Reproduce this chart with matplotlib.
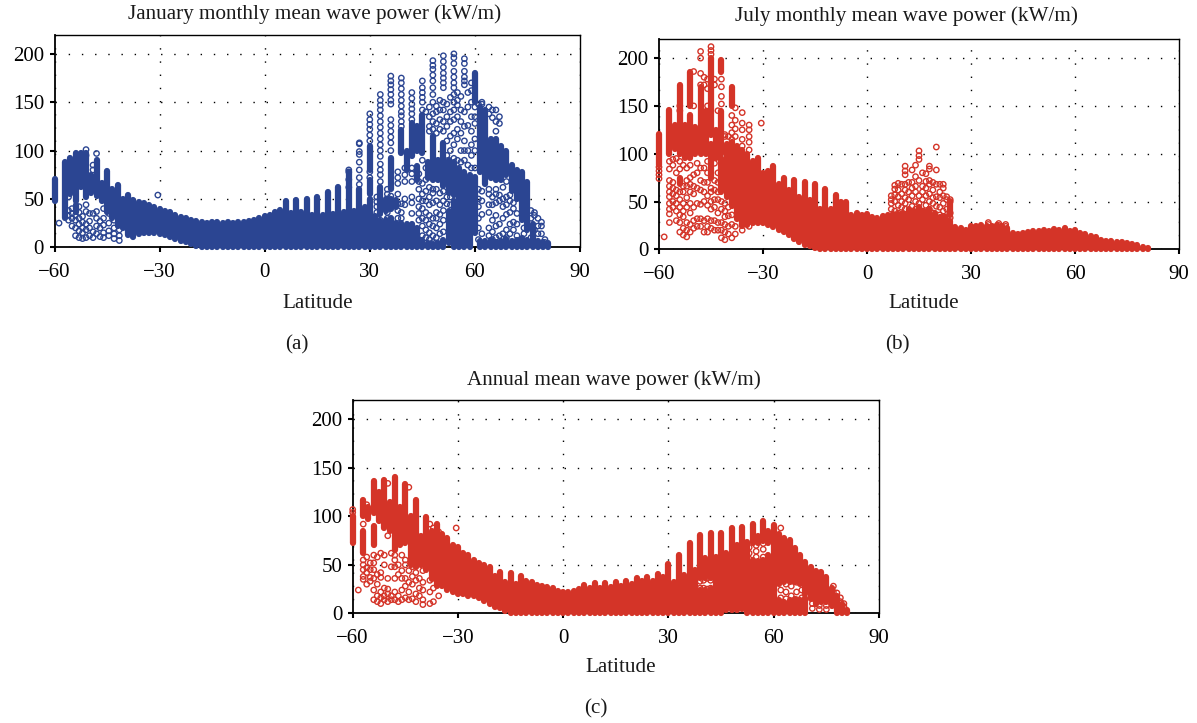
import matplotlib
matplotlib.use('Agg')
import matplotlib.pyplot as plt

plt.rcParams['font.family'] = ['Liberation Serif', 'DejaVu Serif']

x_ticks = [-60, -30, 0, 30, 60, 90]
x_labels = ['\u221260', '\u221230', '0', '30', '60', '90']
y_ticks = [0, 50, 100, 150, 200]
navy = '#2b4592'
red = '#d43428'

# solid stacks of circles: (latitude, low, high)
jan_runs = [
    (-60, 48, 71), (-57, 30, 88), (-55.5, 55, 92), (-54, 48, 98), (-54, 36, 44), (-52.5, 62, 98),
    (-51, 52, 98), (-49.5, 56, 75), (-48, 53, 90), (-46.5, 48, 66), (-45, 36, 79), (-43.5, 30, 60),
    (-42, 22, 64), (-40.5, 20, 50), (-39, 13, 54), (-37.5, 11, 49), (-36, 14, 47), (-34.5, 15, 46),
    (-33, 15, 44), (-31.5, 15, 42), (-30, 14, 40), (-28.5, 13, 38), (-27, 11, 36), (-25.5, 9, 33),
    (-24, 7, 31), (-22.5, 5, 30), (-21, 3, 28), (-19.5, 1, 27), (-18, 0, 26), (-16.5, 0, 25),
    (-15, 0, 26), (-13.5, 0, 26), (-12, 0, 25), (-10.5, 0, 26), (-9, 0, 25), (-7.5, 0, 26),
    (-6, 0, 26), (-4.5, 0, 27), (-3, 0, 28), (-1.5, 0, 30), (0, 0, 32), (1.5, 0, 33),
    (3, 0, 37), (4.5, 0, 39), (6, 0, 48), (7.5, 0, 35), (9, 0, 49), (10.5, 0, 37),
    (12, 0, 50), (13.5, 0, 33), (15, 0, 52), (16.5, 0, 33), (18, 0, 57), (19.5, 0, 34),
    (21, 0, 62), (22.5, 0, 36), (24, 0, 78), (25.5, 0, 38), (27, 0, 60), (28.5, 0, 42),
    (30, 0, 50), (30, 55, 70), (30, 80, 105), (31.5, 0, 32), (33, 0, 27), (33, 34, 62),
    (34.5, 0, 28), (34.5, 38, 50), (36, 0, 30), (36, 40, 50), (36, 60, 92), (37.5, 0, 25), (37.5, 42, 49),
    (39, 0, 25), (39, 97, 121), (40.5, 0, 24), (40.5, 80, 100), (42, 0, 24), (42, 94, 128),
    (43.5, 0, 20), (43.5, 100, 125), (43.5, 70, 84), (45, 97, 137), (45, 0, 8), (46.5, 72, 88),
    (46.5, 0, 4), (48, 70, 115), (48, 0, 3), (49.5, 70, 90), (49.5, 0, 4), (51, 63, 108), (51, 0, 8), (52.5, 56, 90), (52.5, 4, 38),
    (54, 54, 88), (54, 0, 48), (55.5, 55, 82), (55.5, 0, 55), (57, 52, 78), (57, 0, 60),
    (58.5, 45, 75), (58.5, 0, 64), (60, 15, 73), (60, 150, 180), (61.5, 78, 145), (61.5, 0, 7),
    (63, 65, 142), (63, 0, 6), (64.5, 72, 112), (64.5, 0, 8), (66, 70, 112), (66, 0, 5),
    (67.5, 70, 105), (67.5, 0, 6), (69, 75, 100), (69, 0, 9), (70.5, 58, 85), (70.5, 0, 7),
    (72, 50, 80), (72, 0, 8), (73.5, 28, 78), (73.5, 0, 10), (75, 18, 68), (75, 0, 8),
    (76.5, 0, 24), (78, 0, 7), (79.5, 0, 5), (81, 0, 4),
]
jan_open_lat = [-58.7, -56, -55, -54, -53, -52, -51, -50, -49, -48, -47, -46, -44.5, -43, -41.5, -39, -38, -30.5,
                24, 27, 30, 32, 33, 35, 36, 38, 39, 40, 42, 44, 45, 46, 47, 48, 49, 50, 51, 52, 53, 54, 55, 56, 57, 58, 59, 60,
                61, 62, 64, 65, 66, 67, 68, 69, 70, 71, 72, 74, 76, 77, 78, 79, 80]
jan_open_val = [
    [25], [28, 33, 38, 52, 66], [22, 30, 35, 40], [12, 20, 28, 33, 64], [10, 17, 24, 30, 36, 42], [9, 15, 20, 26, 32],
    [10, 18, 24, 37, 44, 64, 95, 101], [12, 20, 27, 35], [10, 16, 35, 72, 80, 85], [14, 22, 30, 37, 97], [11, 20, 27],
    [10, 15, 23, 30, 40, 50], [12, 17, 25, 35], [9, 14, 20, 28], [7, 12, 18, 35, 38], [33, 36], [30, 34], [54],
    [62, 70, 78, 80], [65, 72, 80, 88, 96, 99, 107, 108], [72, 78, 110, 116, 122, 127, 132, 138], [30, 36, 42, 47, 52],
    [28, 68, 75, 80, 86, 94, 100, 106, 112, 118, 124, 130, 136, 142, 147, 152, 158], [30, 36, 42, 50, 55, 60],
    [53, 100, 108, 114, 120, 126, 132, 148, 152, 158, 163, 168, 172, 177], [30, 38, 45, 55, 66, 72, 78],
    [30, 36, 45, 125, 130, 136, 140, 146, 152, 158, 164, 170, 175], [44, 50, 68, 75, 82],
    [35, 46, 52, 68, 76, 82, 132, 138, 143, 148, 154, 160], [28, 35, 42, 50, 60, 68, 76],
    [12, 22, 30, 40, 48, 55, 66, 90, 142, 150, 155, 160, 165, 172], [10, 18, 28, 36, 48, 58, 70, 82, 140],
    [8, 15, 24, 33, 44, 52, 62, 120, 125, 135, 145], [5, 12, 22, 30, 46, 56, 60, 122, 130, 138, 150, 158, 165, 172, 178, 184, 188, 193],
    [10, 20, 30, 36, 48, 60, 118, 128, 140, 146], [14, 24, 34, 44, 56, 122, 132, 142, 152],
    [16, 28, 38, 48, 58, 120, 130, 142, 150, 165, 170, 175, 180, 186, 192, 198], [45, 52, 95, 110, 125, 135, 148],
    [44, 52, 100, 115, 130, 140, 155], [92, 106, 118, 132, 142, 150, 158, 165, 170, 176, 182, 190, 196, 200],
    [90, 112, 122, 135, 147, 152, 160], [88, 100, 118, 130, 142, 156], [90, 100, 110, 125, 140, 168, 172, 176, 182, 190, 195],
    [85, 100, 126, 145, 160], [82, 95, 106, 120, 135, 150, 162, 170], [82, 100, 112, 128, 135, 145],
    [8, 20, 30, 42, 50, 60, 148], [14, 34, 48, 58, 140, 148, 150], [12, 20, 36, 44, 55, 60, 138, 145], [8, 16, 28, 44, 52, 134, 142],
    [10, 22, 33, 46, 55, 60, 120, 130, 142], [12, 24, 48, 54, 128, 135], [14, 30, 42, 50, 62], [10, 18, 34, 44, 52, 68],
    [14, 24, 36, 48, 54], [18, 26, 40, 46], [12, 24, 35], [14, 20], [10, 30, 38], [6, 18, 33, 36], [14, 22, 30], [14, 22, 26], [5, 8],
]

# july panel
jul_runs = [
    (-60, 88, 121), (-57, 100, 146), (-55.5, 105, 130), (-54, 130, 172), (-54, 100, 126), (-54, 68, 75), (-52.5, 95, 130),
    (-51, 150, 185), (-51, 95, 140), (-49.5, 100, 128), (-48, 100, 170), (-46.5, 100, 145), (-45, 120, 200), (-45, 75, 110),
    (-43.5, 95, 125), (-42, 100, 145), (-42, 185, 198), (-42, 60, 96), (-40.5, 55, 110), (-39, 150, 170), (-39, 45, 112),
    (-37.5, 32, 108), (-36, 24, 104), (-34.5, 25, 100), (-33, 28, 92), (-31.5, 28, 95), (-30, 27, 80), (-28.5, 25, 82),
    (-27, 23, 87), (-25.5, 20, 68), (-24, 18, 75), (-22.5, 15, 62), (-21, 11, 73), (-19.5, 8, 55), (-18, 5, 70),
    (-16.5, 3, 52), (-15, 1, 68), (-13.5, 0, 42), (-12, 0, 63), (-10.5, 0, 42), (-9, 0, 57), (-7.5, 0, 50),
    (-6, 0, 49), (-4.5, 0, 36), (-3, 0, 38), (-1.5, 0, 36), (0, 0, 37), (1.5, 0, 34), (3, 0, 33),
    (4.5, 0, 35), (6, 0, 36), (7.5, 0, 37), (9, 0, 37), (10.5, 0, 38), (12, 0, 42), (13.5, 0, 40), (15, 0, 44),
    (16.5, 0, 40), (18, 0, 42), (19.5, 0, 38), (21, 0, 34), (22.5, 0, 34), (24, 0, 30), (24, 36, 50), (25.5, 0, 23), (27, 0, 22),
    (28.5, 0, 20), (30, 0, 24), (31.5, 0, 24), (33, 0, 25), (34.5, 0, 24), (36, 0, 24), (37.5, 0, 25), (39, 0, 24),
    (40.5, 0, 22), (42, 0, 17), (43.5, 0, 16), (45, 0, 17), (46.5, 0, 18), (48, 0, 19), (49.5, 0, 19), (51, 0, 20),
    (52.5, 0, 19), (54, 0, 21), (55.5, 0, 20), (57, 0, 22), (58.5, 0, 19), (60, 0, 20), (61.5, 0, 17), (63, 0, 16),
    (64.5, 0, 14), (66, 0, 13), (67.5, 0, 10), (69, 0, 9), (70.5, 0, 9), (72, 0, 8), (73.5, 0, 8), (75, 0, 7),
    (76.5, 0, 6), (78, 0, 4), (79.5, 0, 2), (81, 0, 1),
]
jul_open_lat = [-60, -58.5, -57, -56, -55, -54, -53, -52, -51, -50, -49, -48, -47, -46, -45, -44, -43, -42, -41, -40, -39, -38,
                -36, -34, -30.5, 7, 8, 9, 10, 11, 12, 13, 14, 15, 16, 17, 18, 19, 20, 21, 22, 23, 24, 35, 38, 40]
jul_open_val = [
    [74, 78, 82, 86], [13], [28, 37, 42, 48, 55, 60, 66, 72, 84, 92], [44, 50, 58, 64, 70, 88, 94], [30, 40, 48, 56, 62, 80, 95],
    [18, 28, 36, 44, 52, 60, 84, 92, 145, 150], [15, 22, 34, 40, 48, 60, 66, 88], [13, 20, 28, 44, 54, 66, 72, 85], [18, 26, 38, 48, 60, 68, 75, 88],
    [22, 30, 44, 58, 66, 78, 150, 186], [24, 32, 48, 64, 80, 90], [24, 32, 47, 62, 72, 85, 172, 184, 200, 207], [18, 30, 50, 60, 70, 85, 172, 180],
    [18, 24, 32, 46, 56, 70, 80, 92, 150, 168, 178], [22, 30, 42, 50, 60, 64, 204, 208, 212], [20, 30, 44, 52, 62, 72, 90, 172, 178],
    [20, 28, 38, 52, 60, 70, 80, 145], [12, 20, 28, 42, 50, 152, 160, 170, 178], [10, 18, 26, 34, 40, 48, 118, 120], [16, 24, 35, 44, 118],
    [12, 26, 36, 115, 122, 130, 140], [16, 24, 118, 126, 135, 148], [20, 26, 108, 115, 125, 132, 143], [24, 104, 112, 118, 125, 130], [132],
    [42, 48, 52, 56], [40, 50, 57, 63, 67], [38, 46, 55, 62, 69], [44, 50, 58, 68], [42, 48, 54, 62, 68, 78, 82, 87],
    [38, 52, 60, 70], [36, 45, 56, 64, 70, 83], [42, 50, 60, 66, 76, 88], [36, 48, 56, 72, 94, 98, 103], [40, 52, 60, 66, 80],
    [38, 46, 56, 64, 71, 79], [35, 42, 50, 58, 68, 72, 84, 87], [38, 48, 54, 62, 70], [45, 55, 68, 83, 107], [36, 44, 54, 60, 68],
    [34, 40, 48, 56, 64, 68], [34, 42, 52, 55], [33, 38, 50, 52], [28, 26], [27, 25], [26, 24],
]

# annual panel
ann_runs = [
    (-60, 72, 100), (-57, 100, 117), (-57, 62, 85), (-55.5, 97, 110), (-54, 103, 136), (-54, 70, 90), (-52.5, 95, 125),
    (-51, 88, 138), (-49.5, 85, 115), (-48, 65, 141), (-46.5, 70, 110), (-45, 72, 133), (-43.5, 50, 100), (-42, 48, 117),
    (-40.5, 50, 80), (-39, 45, 99), (-37.5, 35, 85), (-36, 28, 92), (-34.5, 28, 82), (-33, 24, 78), (-31.5, 22, 70),
    (-30, 20, 68), (-28.5, 20, 62), (-27, 18, 60), (-25.5, 18, 55), (-24, 16, 52), (-22.5, 13, 50), (-21, 10, 48),
    (-19.5, 7, 38), (-18, 5, 43), (-16.5, 2, 32), (-15, 0, 42), (-13.5, 0, 30), (-12, 0, 38), (-10.5, 0, 33),
    (-9, 0, 32), (-7.5, 0, 29), (-6, 0, 28), (-4.5, 0, 27), (-3, 0, 26), (-1.5, 0, 23), (0, 0, 22), (1.5, 0, 22),
    (3, 0, 23), (4.5, 0, 25), (6, 0, 29), (7.5, 0, 26), (9, 0, 31), (10.5, 0, 26), (12, 0, 31), (13.5, 0, 27),
    (15, 0, 32), (16.5, 0, 28), (18, 0, 33), (19.5, 0, 30), (21, 0, 36), (22.5, 0, 33), (24, 0, 37), (25.5, 0, 33),
    (27, 0, 41), (28.5, 0, 37), (30, 0, 51), (31.5, 0, 32), (33, 0, 60), (34.5, 0, 40), (36, 0, 72), (37.5, 0, 45),
    (39, 36, 81), (39, 0, 24), (40.5, 36, 57), (40.5, 0, 24), (42, 36, 83), (42, 0, 25), (43.5, 0, 58), (45, 0, 83),
    (46.5, 3, 62), (48, 3, 88), (49.5, 3, 70), (51, 4, 89), (52.5, 0, 74), (54, 0, 55), (54, 72, 92), (55.5, 0, 54),
    (55.5, 72, 80), (57, 0, 55), (57, 75, 95), (58.5, 0, 60), (58.5, 72, 85), (60, 0, 91), (61.5, 30, 82), (61.5, 0, 14),
    (63, 32, 78), (63, 0, 12), (64.5, 32, 76), (64.5, 0, 14), (66, 32, 67), (66, 0, 15), (67.5, 30, 60), (67.5, 0, 14),
    (69, 20, 53), (69, 0, 16), (70.5, 15, 48), (72, 10, 44), (73.5, 12, 43), (75, 12, 37), (76.5, 8, 26), (78, 0, 18),
    (79.5, 0, 10), (81, 0, 3),
]
ann_open_lat = [-60, -58.4, -57, -56, -55, -54, -53, -52, -51, -50, -49, -48, -47, -46, -45, -44, -43, -42, -41, -40, -38, -37, -35.5,
                -30.5, 39, 40, 41, 42, 53, 55, 57, 62, 63.5, 65, 66.5, 68, 71, 73, 75, 77, 78, 79, 80]
ann_open_val = [
    [104, 107], [24], [35, 38, 45, 50, 55, 92], [30, 42, 47, 58, 112], [33, 37, 45, 52], [14, 24, 36, 45, 52, 60], [12, 18, 30, 40, 58],
    [10, 16, 22, 37, 42, 62], [14, 18, 26, 50, 60], [12, 20, 25, 36, 80, 134], [14, 18, 48, 62, 108], [14, 22, 36, 48, 55, 60],
    [12, 18, 40, 50], [14, 24, 36, 44, 60], [16, 28, 36, 50, 55], [14, 22, 32, 44, 130], [15, 30, 38, 48], [12, 20, 34, 42],
    [18, 26, 36], [9, 14, 24, 32, 44], [10, 22, 34, 92], [12, 26, 88], [18, 84], [88],
    [26, 33], [26, 34], [25, 36], [26, 34], [56, 62, 68], [58, 64, 70], [58, 66, 72], [16, 24, 88],
    [15, 22, 30], [18, 28], [14, 22, 32], [16, 24, 32], [5, 10], [4, 8], [4, 8], [28, 22], [21, 15], [16, 12], [10, 7],
]


def draw_panel(ax, runs, open_lat, open_val, color):
    lats = [r[0] for r in runs]
    lows = [r[1] for r in runs]
    highs = [r[2] for r in runs]
    ax.vlines(lats, lows, highs, colors=color, linewidth=4.5, capstyle='round', zorder=3, clip_on=False)
    xs = []
    ys = []
    for lat, vals in zip(open_lat, open_val):
        for v in vals:
            xs.append(lat)
            ys.append(v)
    ax.scatter(xs, ys, s=15, facecolors='none', edgecolors=color, linewidths=1.0, zorder=4, clip_on=False)
    ax.set_xlim(-60, 90)
    ax.set_ylim(0, 220)
    ax.set_xticks(x_ticks)
    ax.set_xticklabels(x_labels)
    ax.set_yticks(y_ticks)
    ax.tick_params(axis='y', length=3.5, width=1.5, labelsize=15, pad=4)
    ax.tick_params(axis='x', length=3.5, width=1.5, labelsize=15, pad=8)
    ax.grid(True, color='black', linewidth=1.0, linestyle=(0, (1, 8.5)), zorder=1)
    ax.set_axisbelow(True)
    for side in ['top', 'right']:
        ax.spines[side].set_linewidth(1.0)
    for side in ['left', 'bottom']:
        ax.spines[side].set_linewidth(1.3)


W, H = 1197, 723


def px_axes(fig, left, top, right, bottom):
    return fig.add_axes([left / W, 1 - bottom / H, (right - left) / W, (bottom - top) / H])


def px_text(fig, x, y, s):
    fig.text(x / W, 1 - y / H, s, ha='center', va='center', fontsize=15.2, color='#1a1a1a')


fig = plt.figure(figsize=(W / 100, H / 100), dpi=100)

ax_a = px_axes(fig, 54.5, 34.5, 580, 247.3)
draw_panel(ax_a, jan_runs, jan_open_lat, jan_open_val, navy)
ax_b = px_axes(fig, 659, 39, 1179, 249.3)
draw_panel(ax_b, jul_runs, jul_open_lat, jul_open_val, red)
ax_c = px_axes(fig, 352.7, 400, 879, 613.3)
draw_panel(ax_c, ann_runs, ann_open_lat, ann_open_val, red)

px_text(fig, 315, 14, 'January monthly mean wave power (kW/m)')
px_text(fig, 906, 16, 'July monthly mean wave power (kW/m)')
px_text(fig, 614, 380, 'Annual mean wave power (kW/m)')
px_text(fig, 318, 303, 'Latitude')
px_text(fig, 924, 303, 'Latitude')
px_text(fig, 621, 667, 'Latitude')
px_text(fig, 297, 345, '(a)')
px_text(fig, 897, 345, '(b)')
px_text(fig, 596, 709, '(c)')

fig.savefig('out.png', dpi=100)
